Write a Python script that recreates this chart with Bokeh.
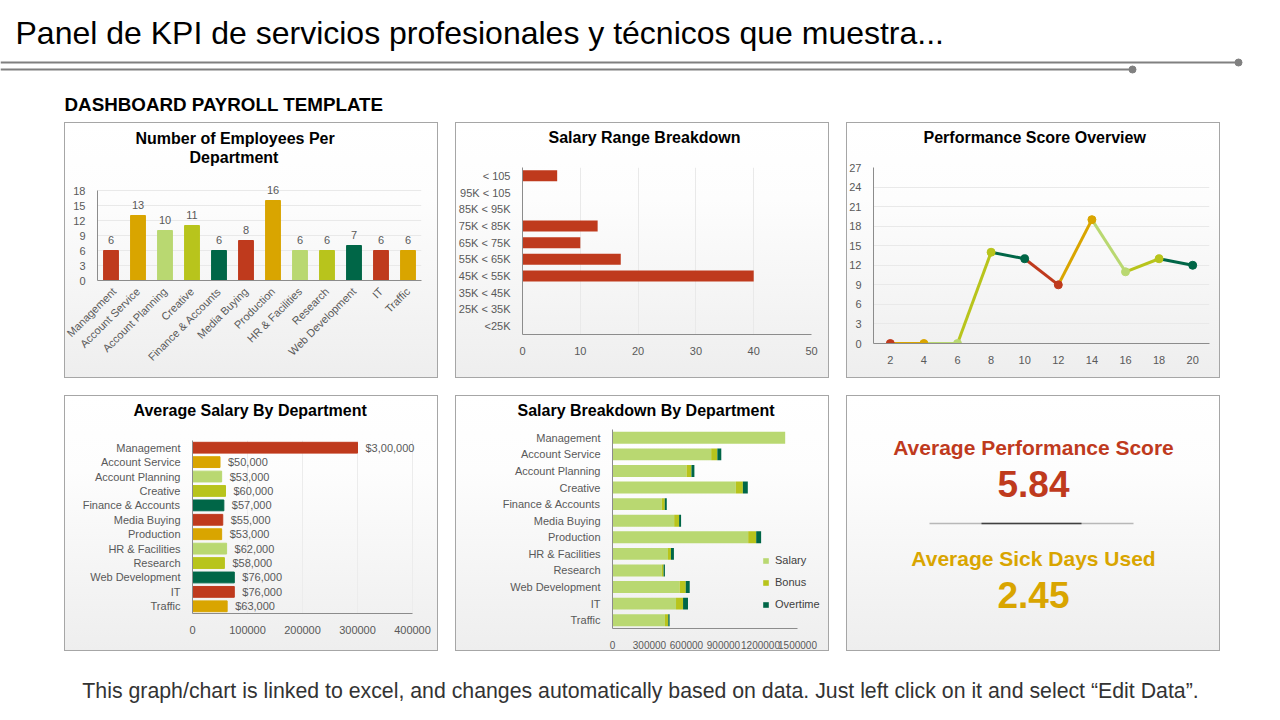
from math import pi

from bokeh.plotting import figure
from bokeh.layouts import row, column
from bokeh.core.properties import value
from bokeh.models import (ColumnDataSource, FactorRange, FixedTicker, LabelSet, Label,
                          Range1d, Spacer, BasicTickFormatter, Title)
from bokeh.embed import file_html
from bokeh.resources import INLINE

FONT = "Liberation Sans"
RED, GOLD, LGREEN, OLIVE, DGREEN = "#bf3a1d", "#d9a500", "#b9d871", "#b8c41c", "#006647"
PALETTE = [RED, GOLD, LGREEN, OLIVE, DGREEN]

# data
page_title = "Panel de KPI de servicios profesionales y técnicos que muestra..."
dashboard_title = "DASHBOARD PAYROLL TEMPLATE"
footer_note = ("This graph/chart is linked to excel, and changes automatically based on data. "
               "Just left click on it and select \u201cEdit Data\u201d.")

departments = ["Management", "Account Service", "Account Planning", "Creative",
               "Finance & Accounts", "Media Buying", "Production", "HR & Facilities",
               "Research", "Web Development", "IT", "Traffic"]
employees = [6, 13, 10, 11, 6, 8, 16, 6, 6, 7, 6, 6]

salary_ranges = ["<25K", "25K < 35K", "35K < 45K", "45K < 55K", "55K < 65K",
                 "65K < 75K", "75K < 85K", "85K < 95K", "95K < 105", "< 105"]
range_counts = [0, 0, 0, 40, 17, 10, 13, 0, 0, 6]

perf_x = [2, 4, 6, 8, 10, 12, 14, 16, 18, 20]
perf_score = [0, 0, 0, 14, 13, 9, 19, 11, 13, 12]

avg_salary = [300000, 50000, 53000, 60000, 57000, 55000, 53000, 62000, 58000, 76000, 76000, 63000]

salary_part = [1400000, 800000, 600000, 1000000, 400000, 500000, 1100000, 450000, 400000,
               545000, 515000, 425000]
bonus_part = [0, 50000, 40000, 57000, 24000, 40000, 65000, 24000, 14000, 49000, 57000, 27000]
overtime_part = [0, 32000, 24000, 40000, 16000, 16000, 40000, 24000, 11000, 32000, 40000, 11000]

kpi_names = ["Average Performance Score", "Average Sick Days Used"]
kpi_values = [5.84, 2.45]

PANEL_CSS = {"background": "linear-gradient(180deg, #ffffff 0%, #fdfdfd 30%, #eeeeee 100%)",
             "box-shadow": "inset 0 0 0 1px #a6a6a6"}


def money(v):
    # indian style grouping as in the source sheet
    s = str(v)
    head, tail = s[:-3], s[-3:]
    groups = []
    while len(head) > 2:
        groups.insert(0, head[-2:])
        head = head[:-2]
    if head:
        groups.insert(0, head)
    return "$" + ",".join(groups + [tail])


def add_titles(p, lines, offsets, gap, standoff=6):
    # an almost empty title keeps the gap between the real title and the frame
    p.add_layout(Title(text=" ", text_font_size="1px", standoff=gap), "above")
    for i, (text, off) in enumerate(reversed(list(zip(lines, offsets)))):
        p.add_layout(Title(text=text, align="left", offset=off, text_font=FONT,
                           text_font_size="16px", text_font_style="bold",
                           text_color="#000000", standoff=standoff if i == len(lines) - 1 else 0),
                     "above")


def panel(x_range, y_range, left, right, top, bottom):
    p = figure(width=374, height=256, x_range=x_range, y_range=y_range, title=None,
               toolbar_location=None, output_backend="svg",
               min_border_left=left, min_border_right=right,
               min_border_top=top, min_border_bottom=bottom,
               border_fill_alpha=0, background_fill_alpha=0, outline_line_color=None,
               styles=PANEL_CSS)
    for ax in p.axis:
        ax.axis_line_color = "#8c8c8c"
        ax.major_tick_line_color = None
        ax.minor_tick_line_color = None
        ax.major_label_text_font = FONT
        ax.major_label_text_font_size = "11px"
        ax.major_label_text_color = "#595959"
        ax.major_label_standoff = 6
    p.xgrid.grid_line_color = None
    p.ygrid.grid_line_color = None
    return p


def canvas(w, h):
    p = figure(width=w, height=h, x_range=Range1d(0, w), y_range=Range1d(h, 0),
               toolbar_location=None, output_backend="svg", min_border=0,
               border_fill_alpha=0, background_fill_alpha=0, outline_line_color=None)
    p.axis.visible = False
    p.grid.visible = False
    return p


# Number of employees
colors12 = [PALETTE[i % 5] for i in range(len(departments))]
src1 = ColumnDataSource(dict(dept=departments, n=employees, color=colors12,
                             label=[str(v) for v in employees]))
p1 = panel(FactorRange(*departments), Range1d(0, 21), 33, 17, 53, 98)
add_titles(p1, ["Number of Employees Per", "Department"], [38, 92], 7, standoff=0)
p1.vbar(x="dept", top="n", width=0.55, color="color", source=src1)
p1.add_layout(LabelSet(x="dept", y="n", text="label", source=src1, text_align="center",
                       text_baseline="bottom", y_offset=7, text_font=value(FONT),
                       text_font_size="11px", text_color="#595959"))
p1.yaxis.ticker = FixedTicker(ticks=list(range(0, 19, 3)))
p1.yaxis.bounds = (0, 18)
p1.ygrid.grid_line_color = "#e9e9e9"
p1.xaxis.major_label_orientation = pi / 4
p1.xaxis.major_label_standoff = 3

# Salary range breakdown
src2 = ColumnDataSource(dict(rng=salary_ranges, n=range_counts))
p2 = panel(Range1d(0, 50), FactorRange(*salary_ranges), 64, 18, 45, 44)
add_titles(p2, ["Salary Range Breakdown"], [26], 16)
p2.hbar(y="rng", left=0, right="n", height=0.66, fill_color=RED, line_color=None, source=src2)
p2.xaxis.ticker = FixedTicker(ticks=list(range(0, 51, 10)))
p2.xgrid.grid_line_color = "#e9e9e9"

# Performance score overview
pt_colors = [PALETTE[i % 5] for i in range(len(perf_x))]
src3 = ColumnDataSource(dict(x0=perf_x[:-1], y0=perf_score[:-1], x1=perf_x[1:],
                             y1=perf_score[1:], color=pt_colors[1:]))
p3 = panel(Range1d(1, 21), Range1d(0, 27), 24, 11, 45, 35)
add_titles(p3, ["Performance Score Overview"], [50], 16)
p3.segment(x0="x0", y0="y0", x1="x1", y1="y1", color="color", line_width=3, source=src3)
p3.scatter(perf_x, perf_score, size=8, color=pt_colors)
p3.xaxis.ticker = FixedTicker(ticks=perf_x)
p3.yaxis.ticker = FixedTicker(ticks=list(range(0, 28, 3)))
p3.ygrid.grid_line_color = "#e9e9e9"

# Average salary
src4 = ColumnDataSource(dict(dept=departments, s=avg_salary, color=colors12,
                             label=[money(v) for v in avg_salary]))
p4 = panel(Range1d(0, 420000), FactorRange(*reversed(departments)), 128, 15, 45, 38)
add_titles(p4, ["Average Salary By Department"], [-59], 16)
p4.hbar(y="dept", left=0, right="s", height=0.75, color="color", source=src4)
p4.add_layout(LabelSet(x="s", y="dept", text="label", source=src4, x_offset=8,
                       text_baseline="middle", text_font=value(FONT), text_font_size="11px",
                       text_color="#595959"))
p4.xaxis.ticker = FixedTicker(ticks=list(range(0, 400001, 100000)))
p4.xaxis.formatter = BasicTickFormatter(use_scientific=False)
p4.xaxis.bounds = (0, 400000)
p4.xgrid.grid_line_color = "#ececec"

# Salary breakdown
src5 = ColumnDataSource(dict(dept=departments, salary=salary_part, bonus=bonus_part,
                             overtime=overtime_part))
p5 = panel(Range1d(0, 1735000), FactorRange(*reversed(departments)), 157, 3, 34, 23)
add_titles(p5, ["Salary Breakdown By Department"], [-95], 5)
p5.hbar_stack(["salary", "bonus", "overtime"], y="dept", height=0.72,
              fill_color=[LGREEN, OLIVE, DGREEN], line_color=None, source=src5,
              legend_label=["Salary", "Bonus", "Overtime"])
p5.xaxis.ticker = FixedTicker(ticks=list(range(0, 1500001, 300000)))
p5.xaxis.formatter = BasicTickFormatter(use_scientific=False)
p5.xaxis.major_label_text_font_size = "10px"
p5.xaxis.bounds = (0, 1500000)
p5.legend.location = (150, 16)
p5.legend.orientation = "vertical"
p5.legend.background_fill_alpha = 0
p5.legend.border_line_color = None
p5.legend.padding = 0
p5.legend.margin = 0
p5.legend.spacing = 6
p5.legend.label_height = 16
p5.legend.glyph_width = 7
p5.legend.glyph_height = 7
p5.legend.label_standoff = 6
p5.legend.label_text_font = FONT
p5.legend.label_text_font_size = "11px"
p5.legend.label_text_color = "#404040"

# KPI panel
p6 = canvas(374, 256)
p6.styles = PANEL_CSS
kpi_colors = [RED, GOLD]
for i, (name, val) in enumerate(zip(kpi_names, kpi_values)):
    y0 = 52 + i * 111
    p6.add_layout(Label(x=187, y=y0, text=name, text_align="center", text_baseline="middle",
                        text_font=FONT, text_font_size="21px", text_font_style="bold",
                        text_color=kpi_colors[i]))
    p6.add_layout(Label(x=187, y=y0 + 36, text=f"{val:.2f}", text_align="center",
                        text_baseline="middle", text_font=FONT, text_font_size="37px",
                        text_font_style="bold", text_color=kpi_colors[i]))
p6.line([83, 287], [128, 128], line_color="#b8b8b8", line_width=1.5)
p6.line([135, 235], [128, 128], line_color="#404040", line_width=1.5)

# header and footer
head = canvas(1264, 122)
head.add_layout(Label(x=15, y=32, text=page_title, text_baseline="middle", text_font=FONT,
                      text_font_size="32px", text_color="#000000"))
head.line([0, 1238], [62, 62], line_color="#808080", line_width=2)
head.line([0, 1132], [69, 69], line_color="#808080", line_width=2)
head.scatter([1238, 1132], [62, 69], size=7, color="#808080")
head.add_layout(Label(x=64, y=104, text=dashboard_title, text_baseline="middle",
                      text_font=FONT, text_font_size="18.8px", text_font_style="bold",
                      text_color="#000000"))

foot = canvas(1264, 60)
foot.add_layout(Label(x=640, y=39, text=footer_note, text_align="center",
                      text_baseline="middle", text_font=FONT, text_font_size="21.3px",
                      text_color="#333333"))

gap = 17
layout = column(
    head,
    row(Spacer(width=64, height=256), column(p1), Spacer(width=gap, height=256), column(p2),
        Spacer(width=gap, height=256), column(p3)),
    Spacer(width=1264, height=gap),
    row(Spacer(width=64, height=256), column(p4), Spacer(width=gap, height=256), column(p5),
        Spacer(width=gap, height=256), column(p6)),
    foot,
)

open("out.html", "w").write(file_html(layout, INLINE))
